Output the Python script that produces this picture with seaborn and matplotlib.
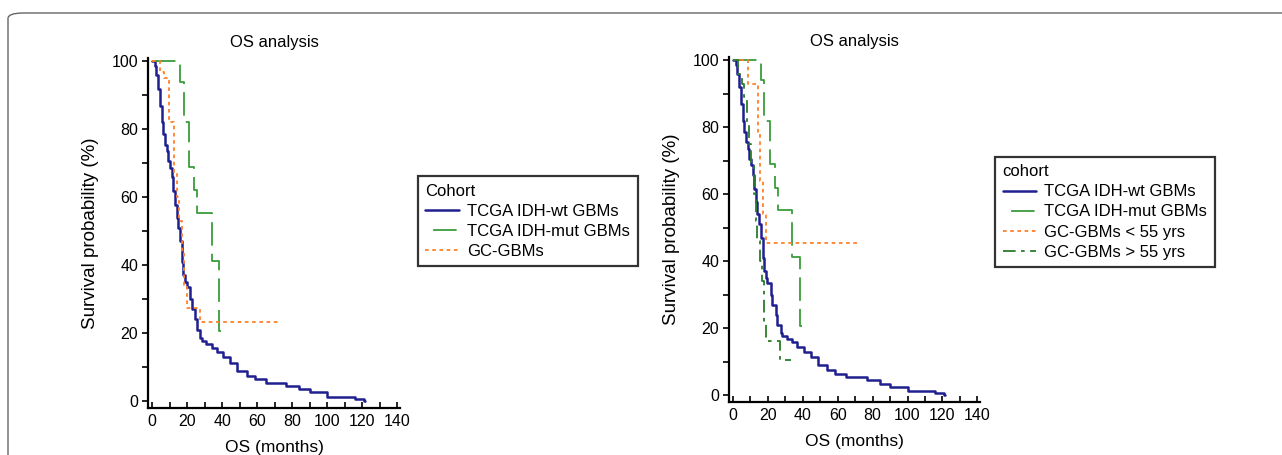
import pandas as pd
import seaborn as sns
import matplotlib.pyplot as plt
from matplotlib.patches import FancyBboxPatch

# Kaplan-Meier steps (months, survival %)
wt_time = [0, 1.5, 2.5, 3.5, 4.5, 5.5, 6.4, 7.4, 8.4, 9.3, 10.2, 11.2, 12.1, 13.1, 14.0,
           15.0, 15.9, 16.9, 17.8, 18.8, 19.7, 21.6, 22.6, 24.5, 25.4, 27.3, 28.3, 31, 34,
           36.8, 40.6, 44.4, 48.7, 54, 58.6, 65, 76.7, 84, 90, 100, 116, 121, 121.5]
wt_surv = [100, 98.5, 96, 92, 87, 82, 78.5, 75.5, 73.5, 70.6, 68.7, 65.8, 61.7, 57.8, 54,
           51, 47, 41, 37, 35, 33.6, 30, 27, 24, 21, 18.6, 17.7, 16.7, 15.7,
           14.3, 12.8, 11.3, 8.9, 7.4, 6.4, 5.4, 4.4, 3.4, 2.5, 1.2, 0.6, 0, 0]

mut_time = [0, 16, 18, 21, 24, 25.5, 34, 38.5, 39.5]
mut_surv = [100, 94, 82, 69, 62, 55.4, 41.3, 20.6, 20.6]

gc_time = [0, 4.5, 7, 9.5, 12.5, 14, 15.5, 17, 18.5, 20, 27.5, 73]
gc_surv = [100, 97, 95, 82, 67, 60, 53, 44, 34, 27.5, 23.1, 23.1]

young_time = [0, 8.6, 14.3, 15.5, 17, 19, 71]
young_surv = [100, 93, 78, 64, 54, 45.3, 45.3]

old_time = [0, 3, 5, 6.5, 8, 9, 10.5, 12, 13, 14, 15.5, 16.5, 17.5, 19, 27, 33.5]
old_surv = [100, 96, 93, 89, 81, 75, 69, 60, 52, 46, 40, 34, 21.4, 16, 10.4, 10.4]

x_ticks = [0, 20, 40, 60, 80, 100, 120, 140]
y_ticks = [0, 20, 40, 60, 80, 100]

BLUE = "#1f1f8f"
GREEN = "#3a9d3a"
DKGREEN = "#2a7d2a"
ORANGE = "#ff7f27"
MUT_DASH = (0, (13, 4.5))

sns.set_style("ticks")
plt.rcParams["font.family"] = ["Liberation Sans", "DejaVu Sans"]
plt.rcParams["text.color"] = "black"
plt.rcParams["axes.labelcolor"] = "black"
plt.rcParams["xtick.color"] = "black"
plt.rcParams["ytick.color"] = "black"

fig = plt.figure(figsize=(12.82, 4.55), dpi=100)

# outer frame with rounded corner
frame = FancyBboxPatch((8 / 1282, 1 - 470 / 455), 1.05, 457 / 455,
                       boxstyle="round,pad=0,rounding_size=0.012",
                       transform=fig.transFigure, fill=False,
                       edgecolor="#666666", linewidth=1.0, clip_on=False)
fig.patches.append(frame)


def km(ax, t, s, label, color, ls, lw=1.3):
    df = pd.DataFrame({"t": t, "s": s})
    sns.lineplot(data=df, x="t", y="s", ax=ax, drawstyle="steps-post", color=color,
                 linestyle=ls, linewidth=lw, label=label, estimator=None,
                 errorbar=None, sort=False)


def style_axes(ax):
    ax.set_xlim(-2.3, 141.5)
    ax.set_ylim(-2.1, 101)
    ax.set_xticks(x_ticks)
    ax.set_yticks(y_ticks)
    ax.set_xticks(range(10, 140, 20), minor=True)
    ax.set_yticks(range(10, 100, 20), minor=True)
    for side in ["top", "right"]:
        ax.spines[side].set_visible(False)
    for side in ["left", "bottom"]:
        ax.spines[side].set_linewidth(1.6)
        ax.spines[side].set_color("black")
    ax.tick_params(axis="x", which="both", direction="in", length=4, width=1.2,
                   labelsize=11.5, pad=4)
    ax.tick_params(axis="y", which="both", direction="out", length=4, width=1.2,
                   labelsize=11.5, pad=3)
    ax.set_title("OS analysis", fontsize=12, pad=8)
    ax.set_xlabel("OS (months)", fontsize=12.5, labelpad=8)
    ax.set_ylabel("Survival probability (%)", fontsize=13.5, labelpad=9)


def legend(ax, title, anchor):
    leg = ax.legend(title=title, loc="upper left", bbox_to_anchor=anchor,
                    bbox_transform=fig.transFigure, borderaxespad=0, fancybox=False,
                    fontsize=12, title_fontsize=12, handlelength=2.0, handletextpad=0.5,
                    labelspacing=0.3, borderpad=0.45, frameon=True)
    leg._legend_box.align = "left"
    leg.get_frame().set_edgecolor("black")
    leg.get_frame().set_linewidth(1.6)
    # the long-dash handle shows as a short solid stroke, as in the original
    leg.get_lines()[1].set_linestyle((13, (13, 4.5)))


ax1 = fig.add_axes([0.11544, 0.10330, 0.19657, 0.76923])
km(ax1, wt_time, wt_surv, "TCGA IDH-wt GBMs", BLUE, "-", lw=1.8)
km(ax1, mut_time, mut_surv, "TCGA IDH-mut GBMs", GREEN, MUT_DASH)
km(ax1, gc_time, gc_surv, "GC-GBMs", ORANGE, (0, (2, 2)))
style_axes(ax1)
legend(ax1, "Cohort", (418 / 1282, 1 - 176 / 455))

ax2 = fig.add_axes([0.56864, 0.11648, 0.19579, 0.75824])
km(ax2, wt_time, wt_surv, "TCGA IDH-wt GBMs", BLUE, "-", lw=1.8)
km(ax2, mut_time, mut_surv, "TCGA IDH-mut GBMs", GREEN, MUT_DASH)
km(ax2, young_time, young_surv, "GC-GBMs < 55 yrs", ORANGE, (0, (2, 2)))
km(ax2, old_time, old_surv, "GC-GBMs > 55 yrs", DKGREEN, (0, (7, 3, 2, 3)))
style_axes(ax2)
legend(ax2, "cohort", (995 / 1282, 1 - 157 / 455))

fig.savefig("out.png", dpi=100)
